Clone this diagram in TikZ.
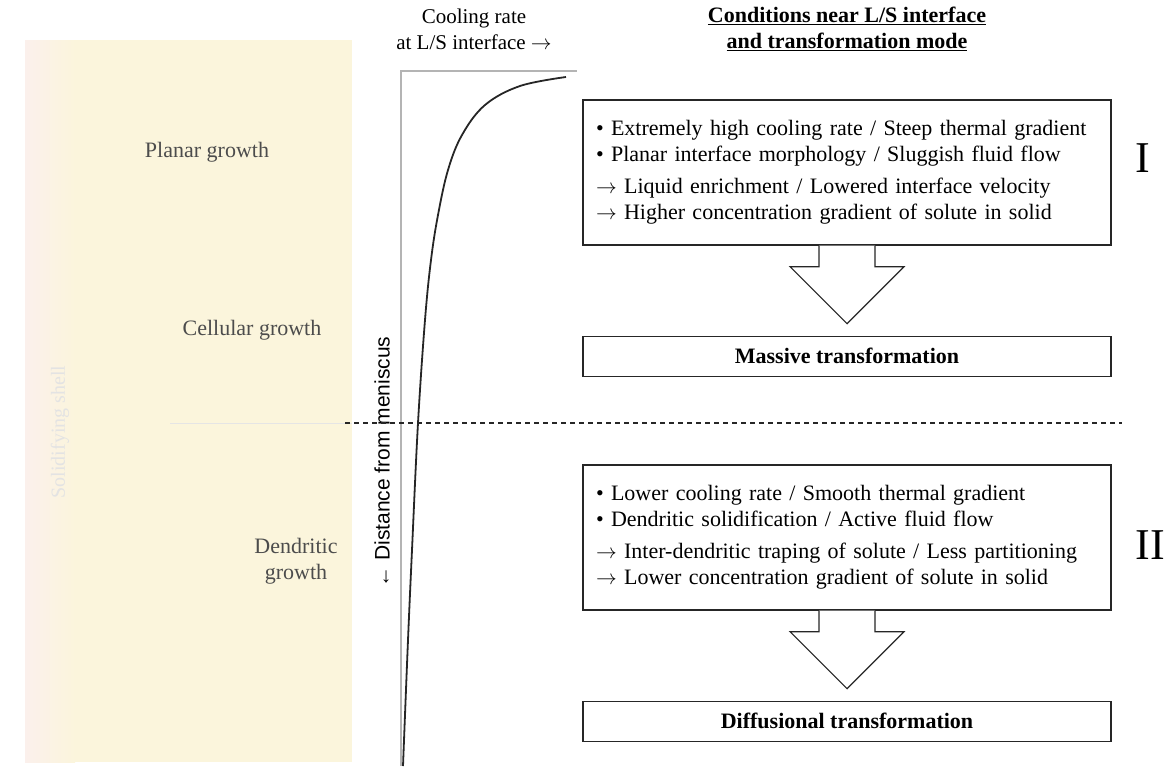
\documentclass[tikz,border=0pt]{standalone}
\usepackage{fontspec}
\setmainfont{Liberation Serif}
\setsansfont{Liberation Sans}
\usetikzlibrary{positioning,calc}

\definecolor{shellpink}{HTML}{FBF0EC}
\definecolor{shellcream}{HTML}{FBF5DC}
\definecolor{axisgray}{HTML}{B4B4B4}
\definecolor{inkgray}{HTML}{262626}

\newcommand{\resarrow}{$\rightarrow$}

\tikzset{
  condbox/.style={draw=inkgray, line width=1.3pt, minimum width=528pt, minimum height=145pt,
    inner xsep=12pt, text width=502pt, align=left, font=\fontsize{22}{26}\selectfont},
  modebox/.style={draw=inkgray, line width=1.3pt, minimum width=528pt, minimum height=40pt,
    font=\fontsize{22}{26}\selectfont\bfseries},
  fatarrow/.style={draw=inkgray, line width=1.2pt, fill=white, line join=miter},
  growthlabel/.style={font=\fontsize{22}{26}\selectfont, text=black!70},
  headtext/.style={font=\fontsize{21}{26}\selectfont, align=center},
}

\begin{document}
\begin{tikzpicture}[x=1pt, y=-1pt, node distance=90pt]
  \useasboundingbox (0,0) rectangle (1173,766);

  % solidifying shell (left panel)
  \fill[shellcream] (25,40) rectangle (352,762);
  \shade[left color=shellpink, right color=shellcream] (25,40) rectangle (75,762);
  \draw[black!10, line width=1pt] (170,423) -- (352,423);
  \node[rotate=90, text=black!11, font=\fontsize{20}{24}\selectfont] (shell) at (60,432) {Solidifying shell};
  \node[growthlabel] (planar) at (207,152) {Planar growth};
  \node[growthlabel] (cellular) at (252,330) {Cellular growth};
  \node[growthlabel, align=center] (dendritic) at (296,561) {Dendritic\\growth};

  % cooling rate curve
  \node[headtext] (coolhead) at (474,29) {Cooling rate\\at L/S interface \resarrow};
  \draw[axisgray, line width=2pt] (401,766) -- (401,71) -- (577,71);
  \draw[inkgray, line width=1.8pt] plot[smooth, tension=0.6] coordinates
    {(403,766) (408,640) (412,550) (418,423) (425,320) (431,260) (438,215)
     (448,170) (462,135) (485,105) (520,86) (566,77)};
  \node[rotate=90, font=\sffamily\fontsize{21}{24}\selectfont] (distlabel) at (382,462) {← Distance from meniscus};

  % conditions and transformation mode
  \node[headtext, font=\fontsize{22}{26}\selectfont\bfseries] (condhead) at (847,29)
    {\underline{Conditions near L/S interface}\\\underline{and transformation mode}};

  \node[condbox] (boxI) at (847,172.5) {• Extremely high cooling rate / Steep thermal gradient\\
    • Planar interface morphology / Sluggish fluid flow\\[6pt]
    \resarrow{} Liquid enrichment / Lowered interface velocity\\
    \resarrow{} Higher concentration gradient of solute in solid};
  \node[modebox, below=of boxI] (massive) {Massive transformation};
  \draw[fatarrow] ([xshift=-28pt]boxI.south) -- ++(0,21) -- ++(-29,0) -- ++(57,57)
    -- ++(57,-57) -- ++(-29,0) -- ([xshift=28pt]boxI.south);

  \draw[inkgray, line width=1.5pt, dash pattern=on 5pt off 4pt] (345,423) -- (1122,423);

  \node[condbox] (boxII) at (847,537.5) {• Lower cooling rate / Smooth thermal gradient\\
    • Dendritic solidification / Active fluid flow\\[6pt]
    \resarrow{} Inter-dendritic traping of solute / Less partitioning\\
    \resarrow{} Lower concentration gradient of solute in solid};
  \node[modebox, below=of boxII] (diffusional) {Diffusional transformation};
  \draw[fatarrow] ([xshift=-28pt]boxII.south) -- ++(0,21) -- ++(-29,0) -- ++(57,57)
    -- ++(57,-57) -- ++(-29,0) -- ([xshift=28pt]boxII.south);

  \node[font=\fontsize{44}{44}\selectfont] (stageI) at (1143,158) {I};
  \node[font=\fontsize{44}{44}\selectfont] (stageII) at (1150,545) {II};
\end{tikzpicture}
\end{document}
